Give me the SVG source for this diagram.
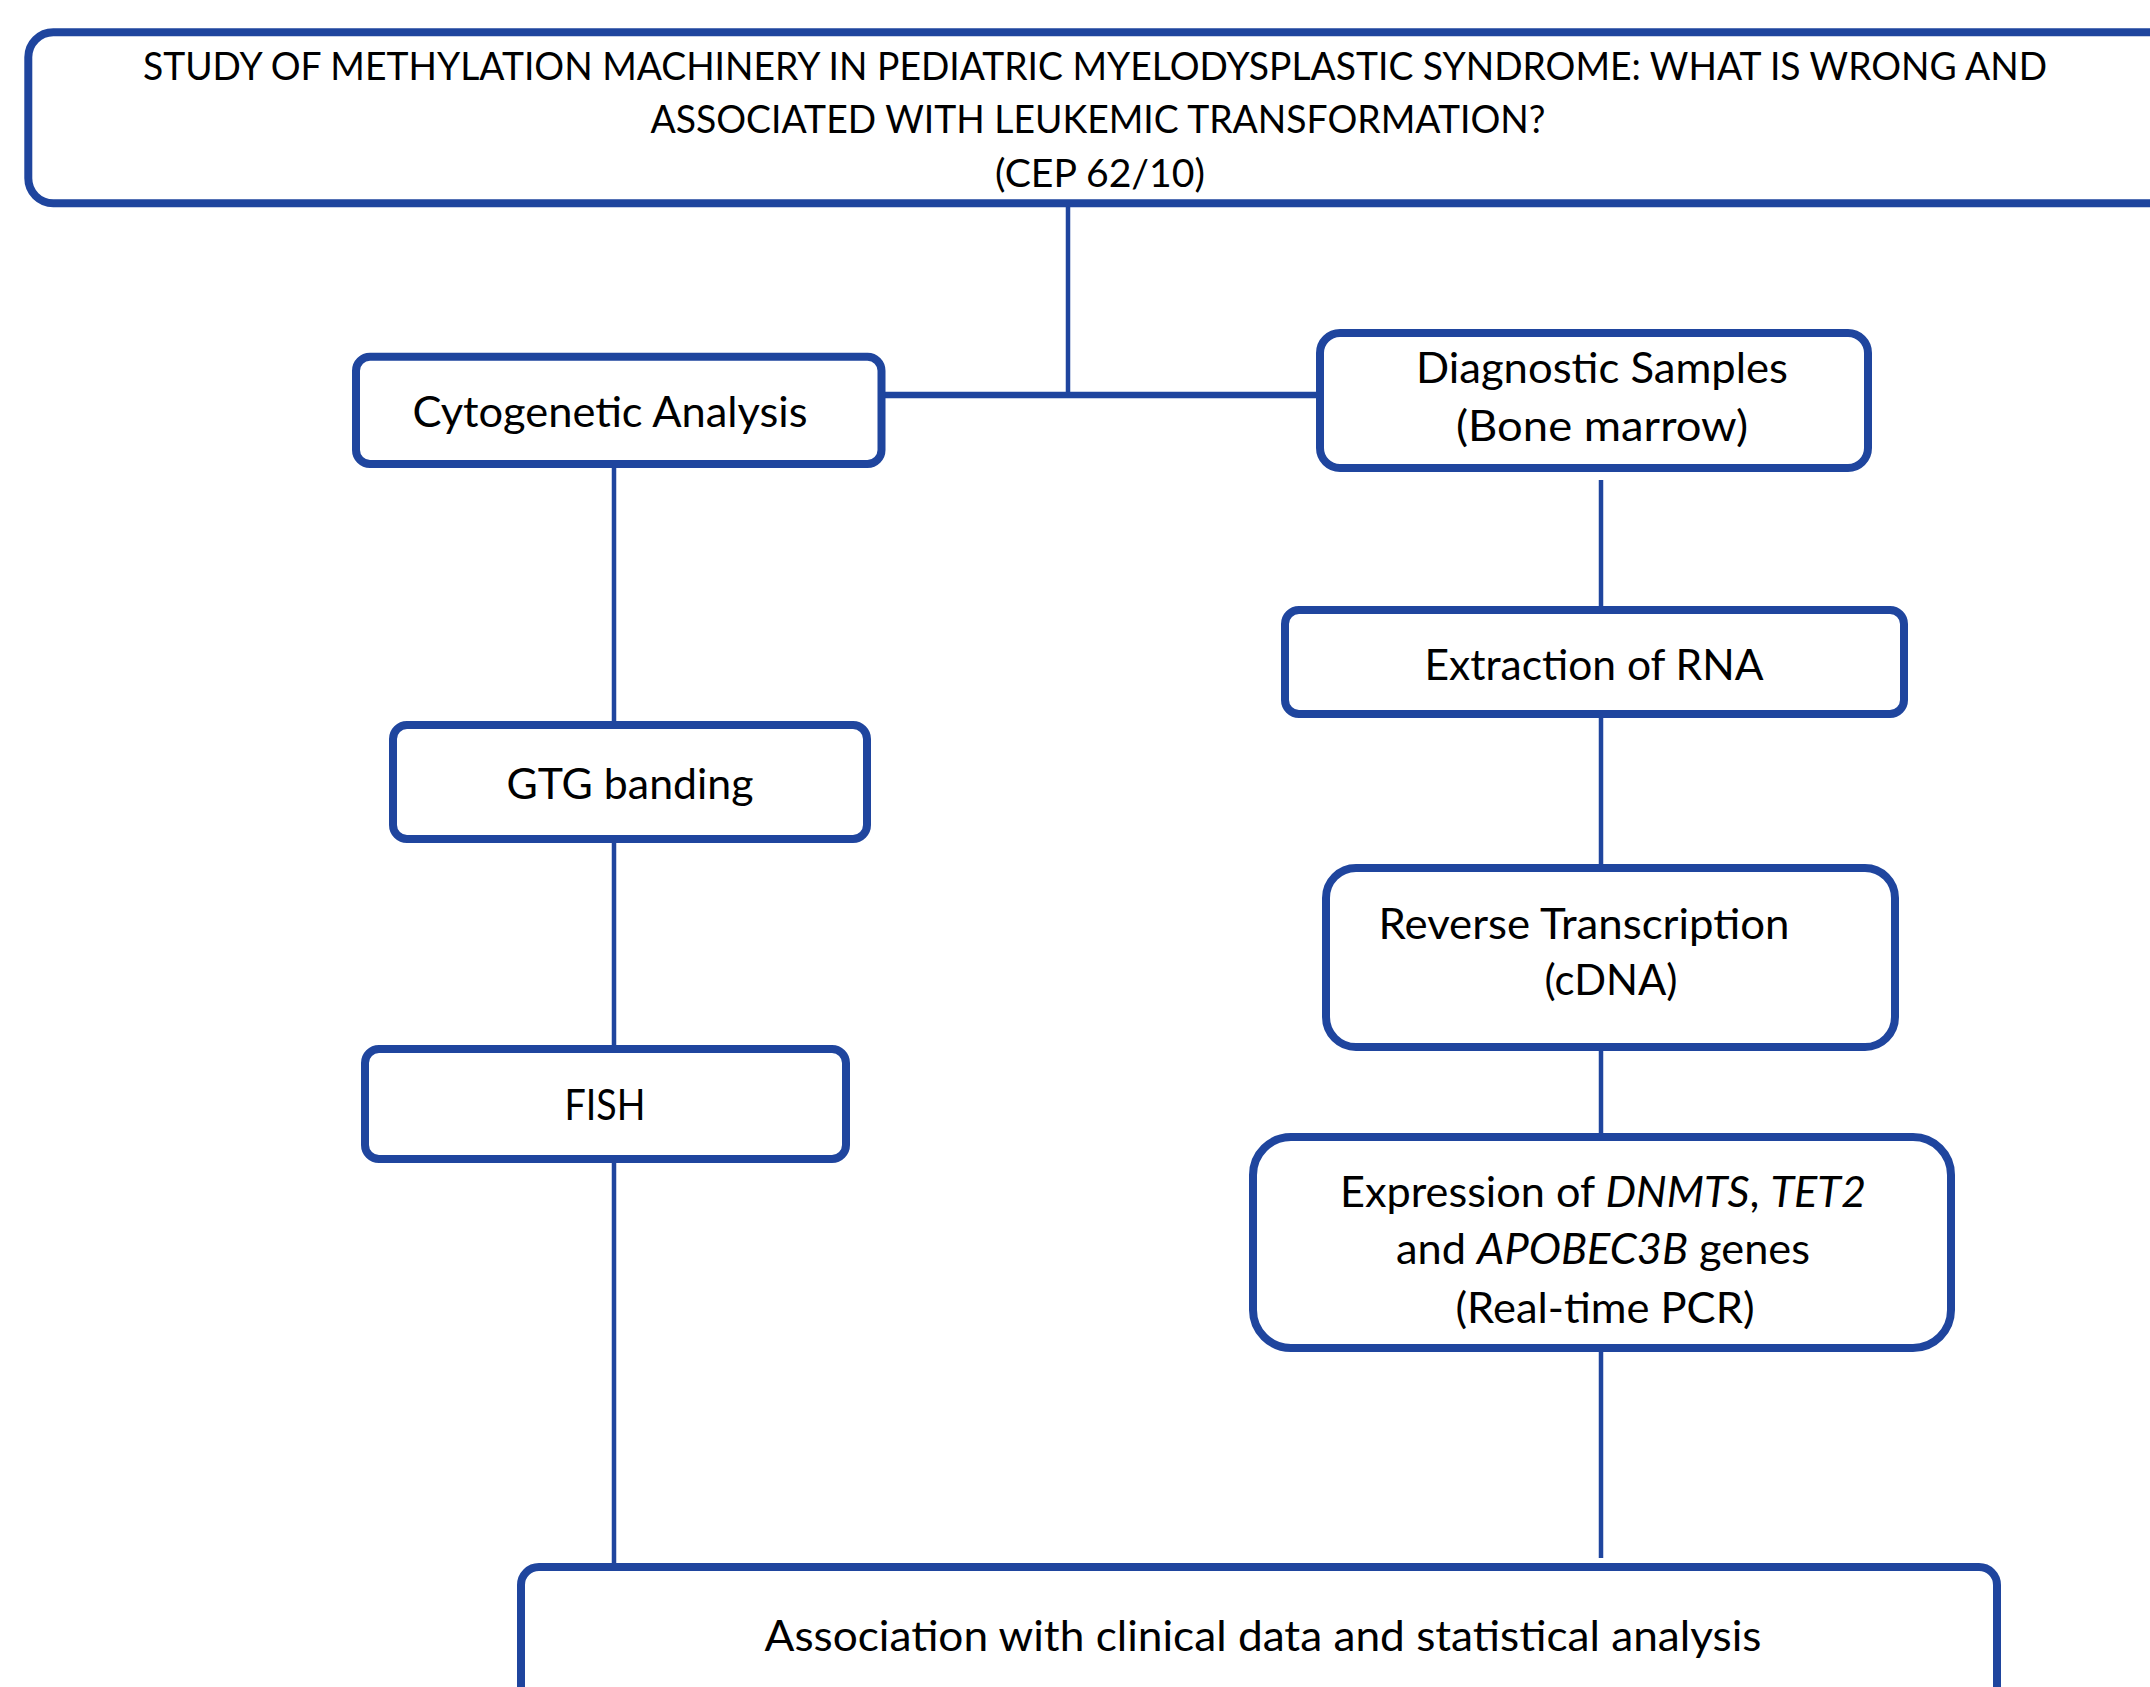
<svg xmlns="http://www.w3.org/2000/svg" width="2150" height="1687" viewBox="0 0 2150 1687">
<style>
.box{fill:#ffffff;stroke:#1F459E;stroke-width:8}
.ln{stroke:#1F459E;stroke-width:4.5;fill:none}
.t{font-family:Lato,"Liberation Sans",sans-serif;font-size:42px;fill:#000;text-anchor:middle}
.tt{font-family:Lato,"Liberation Sans",sans-serif;font-size:38.5px;fill:#000;text-anchor:middle}
.i{font-style:italic}
</style>
<rect width="2150" height="1687" fill="#ffffff"/>
<g id="connectors">
<line class="ln" x1="1068" y1="205" x2="1068" y2="397"/>
<line class="ln" x1="880" y1="395" x2="1318" y2="395" style="stroke-width:6.5"/>
<line class="ln" x1="614" y1="466" x2="614" y2="723"/>
<line class="ln" x1="614" y1="841" x2="614" y2="1047"/>
<line class="ln" x1="614" y1="1161" x2="614" y2="1565"/>
<line class="ln" x1="1601" y1="480" x2="1601" y2="608"/>
<line class="ln" x1="1601" y1="716" x2="1601" y2="866"/>
<line class="ln" x1="1601" y1="1049" x2="1601" y2="1135"/>
<line class="ln" x1="1601" y1="1350" x2="1601" y2="1558"/>
</g>
<g id="title">
<rect class="box" x="28.3" y="32.3" width="2200" height="171" rx="25"/>
<text class="tt" x="1095" y="80" textLength="1904" lengthAdjust="spacingAndGlyphs">STUDY OF METHYLATION MACHINERY IN PEDIATRIC MYELODYSPLASTIC SYNDROME: WHAT IS WRONG AND</text>
<text class="tt" x="1098" y="133" textLength="895" lengthAdjust="spacingAndGlyphs">ASSOCIATED WITH LEUKEMIC TRANSFORMATION?</text>
<text class="tt" x="1100" y="187" textLength="210" lengthAdjust="spacingAndGlyphs">(CEP 62/10)</text>
</g>
<g id="cytogenetic">
<rect class="box" x="356" y="356.7" width="525.5" height="107.3" rx="14"/>
<text class="t" x="610" y="427" textLength="395" lengthAdjust="spacingAndGlyphs">Cytogenetic Analysis</text>
</g>
<g id="diagnostic">
<rect class="box" x="1320" y="333" width="548" height="135" rx="20"/>
<text class="t" x="1602" y="383" textLength="372" lengthAdjust="spacingAndGlyphs">Diagnostic Samples</text>
<text class="t" x="1602" y="441" textLength="292" lengthAdjust="spacingAndGlyphs">(Bone marrow)</text>
</g>
<g id="extraction">
<rect class="box" x="1285" y="610" width="619" height="104" rx="14"/>
<text class="t" x="1594" y="680" textLength="339" lengthAdjust="spacingAndGlyphs">Extraction of RNA</text>
</g>
<g id="gtg">
<rect class="box" x="393" y="725" width="474" height="114" rx="14"/>
<text class="t" x="630" y="799" textLength="247" lengthAdjust="spacingAndGlyphs">GTG banding</text>
</g>
<g id="fish">
<rect class="box" x="365" y="1049" width="481" height="110" rx="14"/>
<text class="t" x="605" y="1120" textLength="81" lengthAdjust="spacingAndGlyphs">FISH</text>
</g>
<g id="reverse">
<rect class="box" x="1326" y="868" width="569" height="179" rx="30"/>
<text class="t" x="1584" y="939" textLength="411" lengthAdjust="spacingAndGlyphs">Reverse Transcription</text>
<text class="t" x="1611" y="995" textLength="133" lengthAdjust="spacingAndGlyphs">(cDNA)</text>
</g>
<g id="expression">
<rect class="box" x="1253" y="1137" width="698" height="211" rx="38"/>
<text class="t" x="1603" y="1207" textLength="526" lengthAdjust="spacingAndGlyphs">Expression of <tspan class="i">DNMTS</tspan>, <tspan class="i">TET2</tspan></text>
<text class="t" x="1603" y="1264" textLength="414" lengthAdjust="spacingAndGlyphs">and <tspan class="i">APOBEC3B</tspan> genes</text>
<text class="t" x="1605" y="1323" textLength="299" lengthAdjust="spacingAndGlyphs">(Real-time PCR)</text>
</g>
<g id="association">
<rect class="box" x="521" y="1567" width="1476" height="200" rx="18"/>
<text class="t" x="1263" y="1651" textLength="997" lengthAdjust="spacingAndGlyphs">Association with clinical data and statistical analysis</text>
</g>
</svg>
